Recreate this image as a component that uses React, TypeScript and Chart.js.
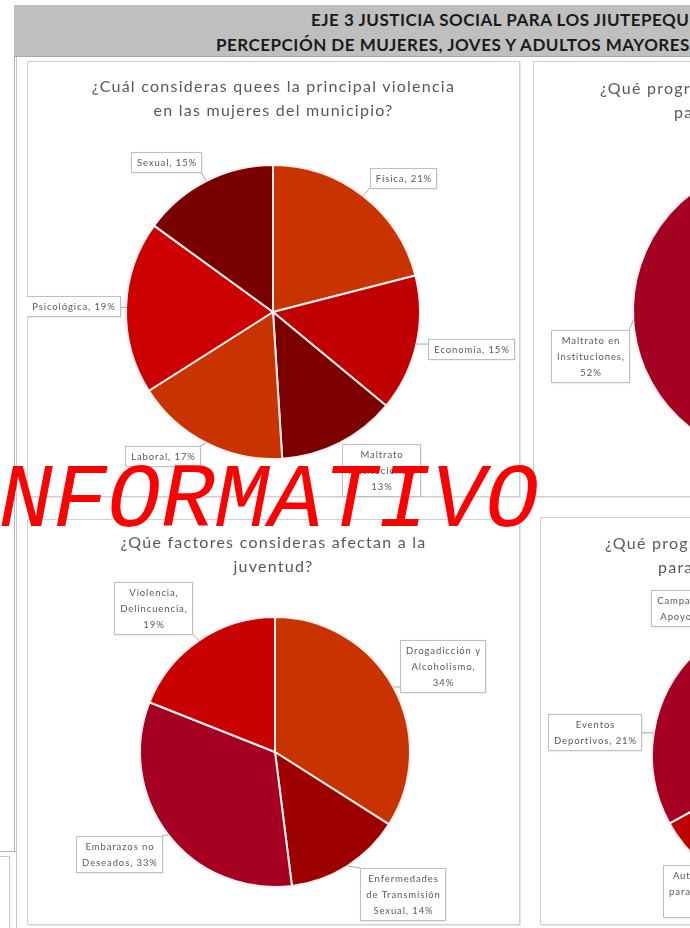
import React, { useEffect, useRef } from 'react';
import { Chart, registerables } from 'chart.js';

Chart.register(...registerables);

// ---------------- DATA ----------------
const violenceCategories = ['Física', 'Economía', 'Maltrato Instituciones', 'Laboral', 'Psicológica', 'Sexual'];
const violenceValues = [21, 15, 13, 17, 19, 15];

const youthFactorCategories = ['Drogadicción y Alcoholismo', 'Enfermedades de Transmisión Sexual', 'Embarazos no Deseados', 'Violencia, Delincuencia'];
const youthFactorValues = [34, 14, 33, 19];

const elderCategories = ['Abandono Familiar', 'Violencia Económica', 'Maltrato en Instituciones'];
const elderValues = [30, 18, 52];

const youthProgramCategories = ['Talleres Culturales', 'Capacitación Laboral', 'Autoempleo para Jóvenes', 'Eventos Deportivos', 'Campañas de Apoyo'];
const youthProgramValues = [30, 25, 12, 21, 12];

const violenceTitle = ['¿Cuál consideras quees la principal violencia', 'en las mujeres del municipio?'];
const youthFactorTitle = ['¿Qúe factores consideras afectan a la', 'juventud?'];
const elderTitle = ['¿Qué programas consideras necesarios', 'para adultos mayores?'];
const youthProgramTitle = ['¿Qué programas consideras necesarios', 'para la juventud?'];

const headerLine1 = 'EJE 3 JUSTICIA SOCIAL PARA LOS JIUTEPEQUENSES';
const headerLine2 = 'PERCEPCIÓN DE MUJERES, JOVES Y ADULTOS MAYORES';
const watermarkText = 'INFORMATIVO';

// ---------------- STYLE / LAYOUT ----------------
const violenceColors = ['#C93300', '#C00000', '#7C0000', '#C93300', '#CC0000', '#7A0000'];
const youthFactorColors = ['#C93300', '#9C0000', '#A50021', '#C80000'];
const elderColors = ['#C93300', '#C00000', '#A50021'];
const youthProgramColors = ['#C93300', '#7C0000', '#C00000', '#A50021', '#CC0000'];

const violenceNudges = [[40, -18], [55, 5], [41, 27], [-44, 13], [-53, -1], [-40, -19]];
const violenceWrap = [200, 200, 80, 200, 200, 200];
const youthFactorNudges = [[49, -21], [55, 28], [-49, 19], [-46, -32]];
const youthFactorWrap = [86, 80, 86, 80];
const elderNudges = [[40, -20], [50, 20], [-43, 36]];
const elderWrap = [86, 86, 80];
const youthProgramNudges = [[40, 0], [40, 20], [-1, 27], [-59, -1], [-53, -15]];
const youthProgramWrap = [86, 86, 76, 90, 86];

const LABEL_FONT = '9.5px Lato';
const LABEL_SPACING = '0.9px';
const TEXT_GRAY = '#595959';

type PanelCfg = {
  left: number; top: number; width: number; height: number;
  title: string[]; titleLefts?: number[]; titleTop: number;
  labels: string[]; values: number[]; colors: string[];
  nudges: number[][]; wrap: number[];
  cx: number; cy: number; r: number;
};

const BW = 2;

const panels: PanelCfg[] = [
  {
    left: 27, top: 61, width: 493, height: 436,
    title: violenceTitle, titleTop: 13,
    labels: violenceCategories, values: violenceValues, colors: violenceColors,
    nudges: violenceNudges, wrap: violenceWrap,
    cx: 246, cy: 251, r: 147,
  },
  {
    left: 27, top: 519, width: 493, height: 406,
    title: youthFactorTitle, titleTop: 11,
    labels: youthFactorCategories, values: youthFactorValues, colors: youthFactorColors,
    nudges: youthFactorNudges, wrap: youthFactorWrap,
    cx: 248, cy: 233, r: 135,
  },
  {
    left: 533, top: 61, width: 493, height: 436,
    title: elderTitle, titleLefts: [67, 141], titleTop: 15,
    labels: elderCategories, values: elderValues, colors: elderColors,
    nudges: elderNudges, wrap: elderWrap,
    cx: 248, cy: 250, r: 148,
  },
  {
    left: 540, top: 517, width: 493, height: 408,
    title: youthProgramTitle, titleLefts: [65, 118], titleTop: 14,
    labels: youthProgramCategories, values: youthProgramValues, colors: youthProgramColors,
    nudges: youthProgramNudges, wrap: youthProgramWrap,
    cx: 254, cy: 238, r: 142,
  },
];

function wrapText(ctx: CanvasRenderingContext2D, text: string, maxW: number): string[] {
  const words = text.split(' ');
  const lines: string[] = [];
  let cur = '';
  for (const w of words) {
    const test = cur ? cur + ' ' + w : w;
    if (cur && ctx.measureText(test).width > maxW) {
      lines.push(cur);
      cur = w;
    } else {
      cur = test;
    }
  }
  if (cur) lines.push(cur);
  return lines;
}

const calloutPlugin = {
  id: 'callouts',
  afterDatasetsDraw(chart: any, _args: any, opts: any) {
    if (!opts || !opts.nudges) return;
    const ctx: CanvasRenderingContext2D = chart.ctx;
    const meta = chart.getDatasetMeta(0);
    const labels = chart.data.labels;
    const values = chart.data.datasets[0].data;
    ctx.save();
    ctx.font = opts.font;
    (ctx as any).letterSpacing = opts.letterSpacing;
    meta.data.forEach((arc: any, i: number) => {
      const p = arc.getProps(['x', 'y', 'startAngle', 'endAngle', 'outerRadius'], true);
      const mid = (p.startAngle + p.endAngle) / 2;
      const ox = p.x + Math.cos(mid) * p.outerRadius;
      const oy = p.y + Math.sin(mid) * p.outerRadius;
      const text = `${labels[i]}, ${values[i]}%`;
      const lines = wrapText(ctx, text, opts.wrap[i]);
      const tw = Math.max(...lines.map((l: string) => ctx.measureText(l).width));
      const w = Math.round(tw + opts.padX * 2);
      const h = Math.round(lines.length * opts.lineHeight + opts.padY * 2);
      const cx = ox + opts.nudges[i][0];
      const cy = oy + opts.nudges[i][1];
      const bx = Math.round(cx - w / 2);
      const by = Math.round(cy - h / 2);
      const nx = Math.min(Math.max(ox, bx), bx + w);
      const ny = Math.min(Math.max(oy, by), by + h);
      if (Math.hypot(nx - ox, ny - oy) > 3) {
        ctx.strokeStyle = '#A6A6A6';
        ctx.lineWidth = 1;
        ctx.beginPath();
        ctx.moveTo(nx, ny);
        ctx.lineTo(ox, oy);
        ctx.stroke();
      }
      ctx.save();
      ctx.shadowColor = 'rgba(0,0,0,0.18)';
      ctx.shadowBlur = 2;
      ctx.shadowOffsetX = 1;
      ctx.shadowOffsetY = 1;
      ctx.fillStyle = '#FFFFFF';
      ctx.fillRect(bx, by, w, h);
      ctx.restore();
      ctx.strokeStyle = '#BFBFBF';
      ctx.lineWidth = 1;
      ctx.strokeRect(bx + 0.5, by + 0.5, w, h);
      ctx.fillStyle = opts.color;
      ctx.textAlign = 'center';
      ctx.textBaseline = 'middle';
      lines.forEach((l: string, k: number) => {
        ctx.fillText(l, bx + w / 2 + 1, by + opts.padY + opts.lineHeight * (k + 0.5) + 0.5);
      });
    });
    ctx.restore();
  },
};

function PiePanel({ cfg }: { cfg: PanelCfg }) {
  const ref = useRef<HTMLCanvasElement | null>(null);
  useEffect(() => {
    if (!ref.current) return;
    const half = cfg.r + BW / 2;
    const chart = new Chart(ref.current, {
      type: 'pie',
      data: {
        labels: cfg.labels,
        datasets: [
          {
            data: cfg.values,
            backgroundColor: cfg.colors,
            borderColor: '#FBEFEF',
            borderWidth: BW,
          },
        ],
      },
      options: {
        responsive: false,
        maintainAspectRatio: false,
        animation: false,
        events: [],
        layout: {
          padding: {
            left: cfg.cx - half,
            right: cfg.width - (cfg.cx + half),
            top: cfg.cy - half,
            bottom: cfg.height - (cfg.cy + half),
          },
        },
        plugins: {
          legend: { display: false },
          title: { display: false },
          tooltip: { enabled: false },
          callouts: {
            nudges: cfg.nudges,
            wrap: cfg.wrap,
            font: LABEL_FONT,
            letterSpacing: LABEL_SPACING,
            color: TEXT_GRAY,
            padX: 5,
            padY: 2,
            lineHeight: 16,
          },
        } as any,
      },
      plugins: [calloutPlugin],
    });
    return () => chart.destroy();
  }, [cfg]);

  return (
    <div
      style={{
        position: 'absolute',
        left: cfg.left,
        top: cfg.top,
        width: cfg.width,
        height: cfg.height,
        background: '#FFFFFF',
        boxShadow: 'inset 0 0 0 1px #D0D0D0, 1px 1px 0 #E6E6E6',
      }}
    >
      <canvas ref={ref} width={cfg.width} height={cfg.height} style={{ position: 'absolute', left: 0, top: 0 }} />
      {cfg.title.map((t, i) => (
        <div
          key={i}
          style={{
            position: 'absolute',
            top: cfg.titleTop + i * 24,
            left: cfg.titleLefts ? cfg.titleLefts[i] : 0,
            width: cfg.titleLefts ? undefined : cfg.width,
            textAlign: cfg.titleLefts ? 'left' : 'center',
            whiteSpace: 'nowrap',
            font: '16px Lato',
            letterSpacing: '1.25px',
            lineHeight: '24px',
            color: TEXT_GRAY,
          }}
        >
          {t}
        </div>
      ))}
    </div>
  );
}

const headerTextStyle: React.CSSProperties = {
  position: 'absolute',
  whiteSpace: 'nowrap',
  font: 'bold 17px Lato',
  letterSpacing: '0.5px',
  color: '#1A1A1A',
  lineHeight: '20px',
};

export default function App() {
  return (
    <div
      style={{
        position: 'fixed',
        left: 0,
        top: 0,
        width: 690,
        height: 928,
        overflow: 'hidden',
        background: '#FFFFFF',
      }}
    >
      {/* outer document frame */}
      <div style={{ position: 'absolute', left: 14, top: 5, width: 1, height: 847, background: '#B4B4B4' }} />
      <div style={{ position: 'absolute', left: 16, top: 56, width: 1, height: 872, background: '#C8C8C8' }} />
      <div style={{ position: 'absolute', left: 0, top: 851, width: 16, height: 1, background: '#B4B4B4' }} />
      <div style={{ position: 'absolute', left: -2, top: 856, width: 10, height: 80, border: '1px solid #C8C8C8' }} />
      {/* header band */}
      <div
        style={{
          position: 'absolute',
          left: 14,
          top: 5,
          width: 700,
          height: 51,
          background: '#BFBFBF',
          borderBottom: '1px solid #A8A8A8',
        }}
      >
        <div style={{ ...headerTextStyle, left: 297, top: 5 }}>{headerLine1}</div>
        <div style={{ ...headerTextStyle, left: 202, top: 30 }}>{headerLine2}</div>
      </div>
      {panels.map((p, i) => (
        <PiePanel key={i} cfg={p} />
      ))}
      {/* watermark */}
      <div
        style={{
          position: 'absolute',
          left: -55,
          top: 457,
          whiteSpace: 'nowrap',
          font: 'italic 90px "Liberation Mono", "Courier New", monospace',
          lineHeight: '90px',
          color: '#FF0000',
          zIndex: 10,
        }}
      >
        {watermarkText}
      </div>
    </div>
  );
}
